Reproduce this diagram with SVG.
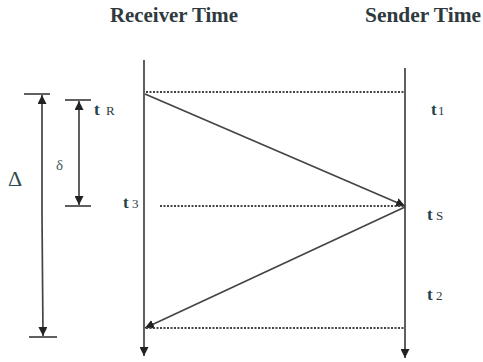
<svg xmlns="http://www.w3.org/2000/svg" width="483" height="362" viewBox="0 0 483 362">
<defs>
<style>
.ln{stroke:#444;stroke-width:1.7;fill:none}
.dot{stroke:#444;stroke-width:2;stroke-dasharray:2 1.5;fill:none}
.ttl{font-family:"Liberation Serif",serif;font-weight:bold;font-size:21px;fill:#2e3a3e}
.lbl{font-family:"Liberation Serif",serif;font-weight:bold;font-size:17px;fill:#24444a}
.sub{font-family:"Liberation Serif",serif;font-size:13px;fill:#2e3a3e}
</style>
<marker id="ah" viewBox="0 0 10 10" refX="10" refY="5" markerWidth="9" markerHeight="9" markerUnits="userSpaceOnUse" orient="auto"><path d="M0,0 L10,5 L0,10 z" fill="#222"/></marker>
</defs>
<rect width="483" height="362" fill="#fff"/>
<g id="titles">
<text class="ttl" x="110" y="22" textLength="128" lengthAdjust="spacingAndGlyphs">Receiver Time</text>
<text class="ttl" x="365" y="22" textLength="116" lengthAdjust="spacingAndGlyphs">Sender  Time</text>
</g>
<g id="receiver-axis"><line class="ln" x1="144" y1="60" x2="144" y2="356" marker-end="url(#ah)"/></g>
<g id="sender-axis"><line class="ln" x1="405" y1="68" x2="405" y2="358" marker-end="url(#ah)"/></g>
<g id="connectors">
<line class="dot" x1="146" y1="92" x2="404" y2="92"/>
<line class="ln" x1="145" y1="94" x2="405" y2="206" marker-end="url(#ah)"/>
<line class="dot" x1="160" y1="206" x2="404" y2="206"/>
<line class="ln" x1="405" y1="207" x2="145" y2="328" marker-end="url(#ah)"/>
<line class="dot" x1="146" y1="328" x2="404" y2="328"/>
</g>
<g id="delta-big">
<line class="ln" x1="24" y1="94" x2="50" y2="94"/>
<line class="ln" x1="29" y1="337" x2="57" y2="337"/>
<line class="ln" x1="42" y1="215" x2="42" y2="95" marker-end="url(#ah)"/>
<line class="ln" x1="42" y1="215" x2="43" y2="336" marker-end="url(#ah)"/>
<text x="8" y="186" style="font-family:'Liberation Serif',serif;font-size:22px;fill:#2e4a50">Δ</text>
</g>
<g id="delta-small">
<line class="ln" x1="65" y1="100" x2="91" y2="100"/>
<line class="ln" x1="65" y1="206" x2="91" y2="206"/>
<line class="ln" x1="79" y1="150" x2="79" y2="101" marker-end="url(#ah)"/>
<line class="ln" x1="79" y1="150" x2="79" y2="205" marker-end="url(#ah)"/>
<text x="56" y="170" style="font-family:'Liberation Serif',serif;font-size:15px;fill:#4a5a5a">δ</text>
</g>
<g id="label-tR"><text class="lbl" x="94" y="115">t</text><text class="sub" x="106" y="115">R</text></g>
<g id="label-t3"><text class="lbl" x="123" y="208">t</text><text class="sub" x="132" y="208">3</text></g>
<g id="label-t1"><text class="lbl" x="431" y="115">t</text><text class="sub" x="438" y="115">1</text></g>
<g id="label-tS"><text class="lbl" x="427" y="220">t</text><text class="sub" x="436" y="220">S</text></g>
<g id="label-t2"><text class="lbl" x="427" y="300">t</text><text class="sub" x="436" y="300">2</text></g>
</svg>
